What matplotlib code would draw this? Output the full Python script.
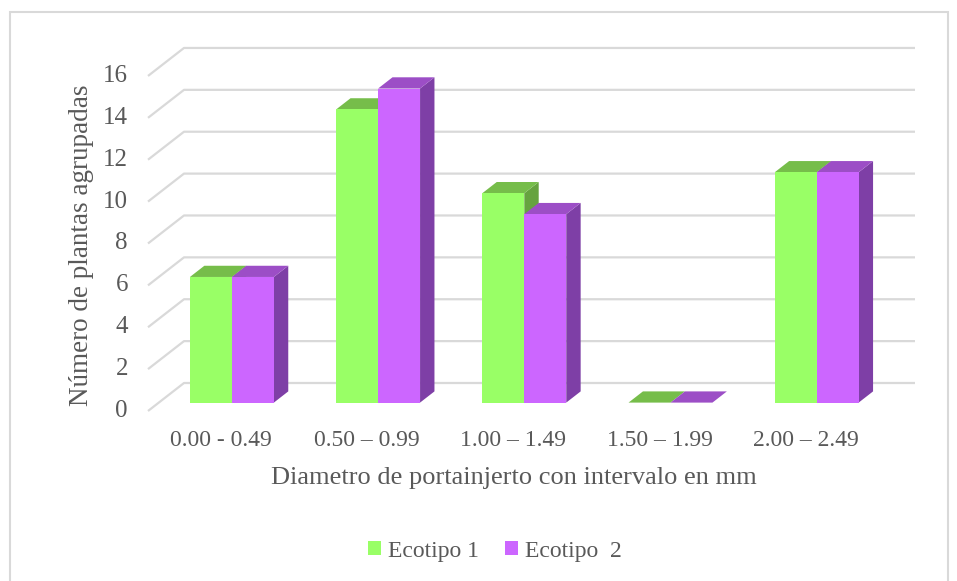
import matplotlib.pyplot as plt
from matplotlib.patches import Polygon, Rectangle, Patch

categories = ["0.00 - 0.49", "0.50 – 0.99", "1.00 – 1.49", "1.50 – 1.99", "2.00 – 2.49"]
ecotipo1 = [6, 14, 10, 0, 11]
ecotipo2 = [6, 15, 9, 0, 11]
series_names = ["Ecotipo 1", "Ecotipo  2"]
yticks = [0, 2, 4, 6, 8, 10, 12, 14, 16]

# front / top / side shades for each series
green = ("#99ff66", "#76bd4a", "#66a33f")
purple = ("#cc66ff", "#9c4ec6", "#7e3fa6")

plt.rcParams['font.family'] = ['Liberation Serif', 'DejaVu Serif']
txt = "#595959"
grid_c = "#d9d9d9"

W, H = 957, 581
fig = plt.figure(figsize=(W / 100, H / 100), dpi=100)

# plot area in pixels: front floor at y=411, back top at y=48
px_left, px_right, px_bot, px_top = 148, 915, 411, 48
ax = fig.add_axes([px_left / W, 1 - px_bot / H, (px_right - px_left) / W, (px_bot - px_top) / H])
cat_px = 146.2
unit_px = 20.94
xmax = (px_right - px_left) / cat_px
ymax = (px_bot - px_top) / unit_px
ax.set_xlim(0, xmax)
ax.set_ylim(0, ymax)
ax.axis('off')

# oblique depth vector (full depth of the box)
dx, dy = 36 / cat_px, 28 / unit_px
f0, f1 = 0.3, 0.7  # bar front / back depth fraction
bw = 0.287

# gridlines: short slanted piece on the side wall then across the back wall
for v in yticks:
    ax.plot([0, dx, xmax], [v, v + dy, v + dy], color=grid_c, lw=1.6, zorder=1,
            solid_capstyle='butt', clip_on=False)
    ax.annotate(str(v), (0, v), xytext=(-20, 0), textcoords='offset pixels',
                ha='right', va='center', fontsize=18, color=txt)


def draw_bar(x0, h, cols):
    fx, fy = x0 + f0 * dx, f0 * dy
    ddx, ddy = (f1 - f0) * dx, (f1 - f0) * dy
    front, top, side = cols
    ax.add_patch(Polygon([(fx + bw, fy), (fx + bw + ddx, fy + ddy),
                          (fx + bw + ddx, fy + ddy + h), (fx + bw, fy + h)],
                         closed=True, fc=side, ec='none', zorder=3))
    ax.add_patch(Polygon([(fx, fy + h), (fx + bw, fy + h),
                          (fx + bw + ddx, fy + h + ddy), (fx + ddx, fy + h + ddy)],
                         closed=True, fc=top, ec='none', zorder=3))
    if h > 0:
        ax.add_patch(Rectangle((fx, fy), bw, h, fc=front, ec='none', zorder=3))


for i, (a, b) in enumerate(zip(ecotipo1, ecotipo2)):
    c = i + 0.5
    draw_bar(c - bw, a, green)
    draw_bar(c, b, purple)
    ax.annotate(categories[i], (c, 0), xytext=(0, -29), textcoords='offset pixels',
                ha='center', va='center', fontsize=17, color=txt)

fig.text((px_left + 5 * cat_px / 2) / W, 1 - 478 / H,
         "Diametro de portainjerto con intervalo en mm",
         ha='center', va='center', fontsize=19, color=txt)
fig.text(82 / W, 1 - 245 / H, "Número de plantas agrupadas", rotation=90,
         ha='center', va='center', fontsize=19.5, color=txt)

handles = [Patch(fc=green[0], ec='none'), Patch(fc=purple[0], ec='none')]
fig.legend(handles, series_names, loc='center', bbox_to_anchor=(495 / W, 1 - 551 / H),
           ncol=2, frameon=False, fontsize=17, labelcolor=txt,
           handlelength=0.55, handleheight=0.55, handletextpad=0.3, columnspacing=1.1)

# chart border
fig.patches.append(Rectangle((10 / W, -0.01), 938 / W, 1.01 - 12 / H,
                             transform=fig.transFigure, fill=False, ec=grid_c, lw=1.5))

fig.savefig("out.png", dpi=100)
